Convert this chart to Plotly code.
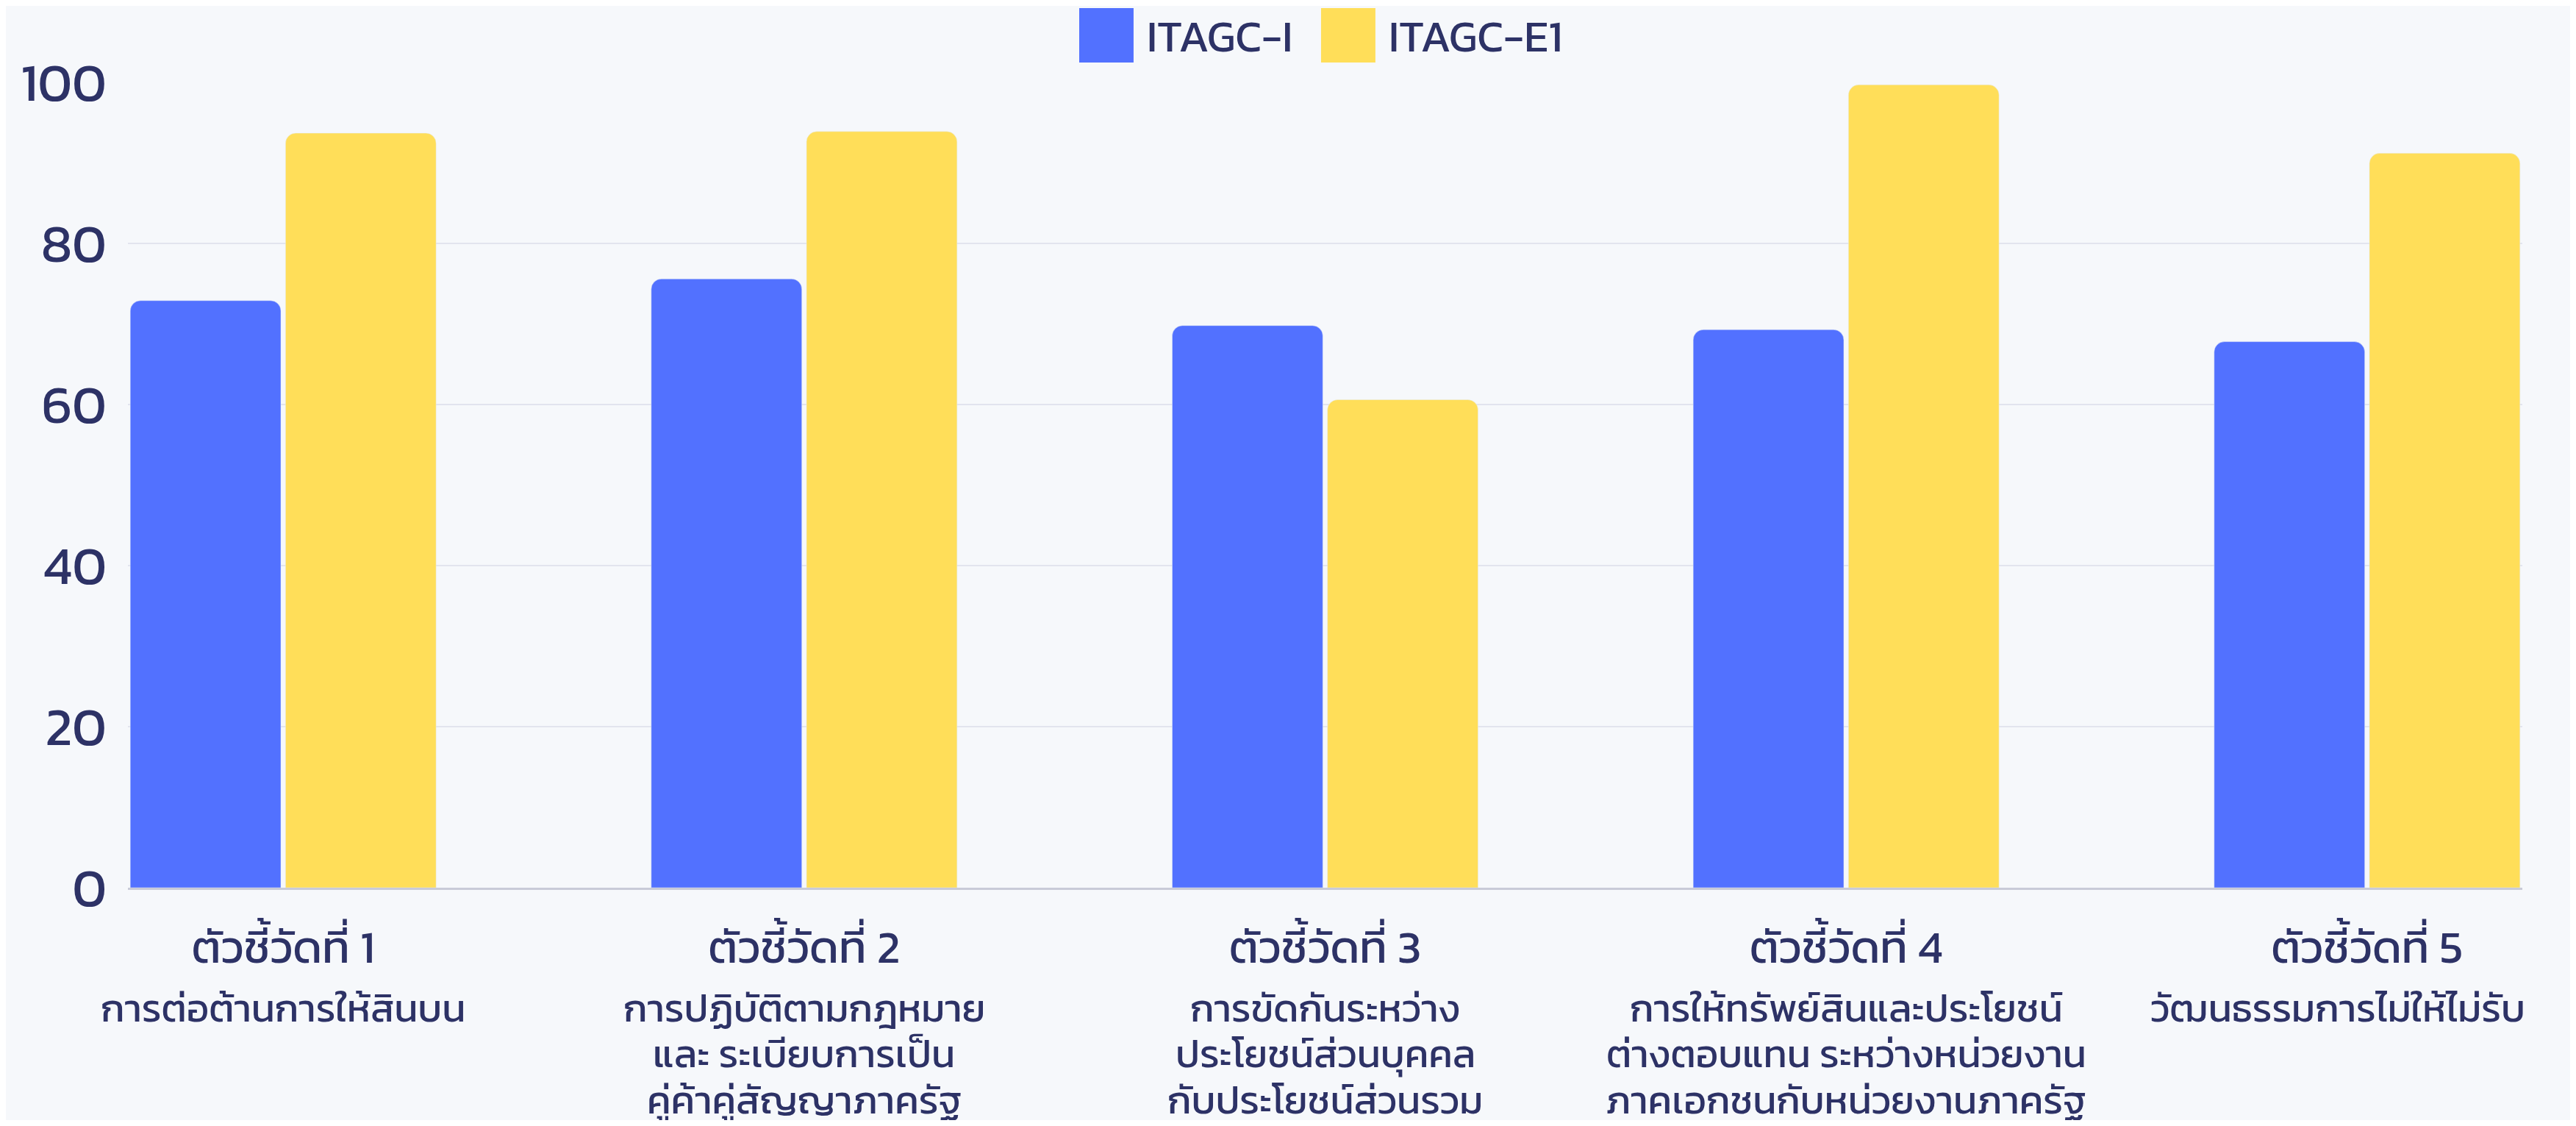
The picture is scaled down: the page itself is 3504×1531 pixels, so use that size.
import plotly.graph_objects as go

# ข้อมูล
categories = ["ตัวชี้วัดที่ 1", "ตัวชี้วัดที่ 2", "ตัวชี้วัดที่ 3", "ตัวชี้วัดที่ 4", "ตัวชี้วัดที่ 5"]
descriptions = [
    ["การต่อต้านการให้สินบน"],
    ["การปฏิบัติตามกฎหมาย", "และ ระเบียบการเป็น", "คู่ค้าคู่สัญญาภาครัฐ"],
    ["การขัดกันระหว่าง", "ประโยชน์ส่วนบุคคล", "กับประโยชน์ส่วนรวม"],
    ["การให้ทรัพย์สินและประโยชน์", "ต่างตอบแทน ระหว่างหน่วยงาน", "ภาคเอกชนกับหน่วยงานภาครัฐ"],
    ["วัฒนธรรมการไม่ให้ไม่รับ"],
]
itagc_i = [72.9, 75.6, 69.8, 69.3, 67.8]
itagc_e1 = [93.7, 93.9, 60.6, 99.7, 91.2]
series_names = ["ITAGC-I", "ITAGC-E1"]

BLUE = "#5271ff"
YELLOW = "#ffde59"
TXT = "#2d3266"
FONT = "Kanit, Prompt, 'Noto Sans Thai', 'Noto Sans', sans-serif"

fig = go.Figure()
fig.add_trace(go.Bar(x=categories, y=itagc_i, name=series_names[0], marker_color=BLUE))
fig.add_trace(go.Bar(x=categories, y=itagc_e1, name=series_names[1], marker_color=YELLOW))

# คำอธิบายใต้แกน x (ทีละบรรทัด เพื่อคุมระยะบรรทัด)
for i, lines in enumerate(descriptions):
    for k, line in enumerate(lines):
        fig.add_annotation(
            x=categories[i], xref="x", y=0, yref="paper",
            yanchor="middle", yshift=-163 - k * 62.6, xshift=-40 if i == 4 else 0,
            text=line, showarrow=False,
            font=dict(size=53, color=TXT, family=FONT),
        )

# legend แบบสี่เหลี่ยมใหญ่ (วาดเอง)
legend_items = [(series_names[0], BLUE, 0.3973), (series_names[1], YELLOW, 0.4983)]
for name, col, x0 in legend_items:
    fig.add_shape(
        type="rect", xref="paper", yref="paper",
        x0=x0, x1=x0 + 0.0227, y0=1.0247, y1=1.0922,
        fillcolor=col, line_width=0,
    )
    fig.add_annotation(
        x=x0 + 0.0276, xref="paper", y=1.0575, yref="paper",
        xanchor="left", yanchor="middle", text=name, showarrow=False,
        font=dict(size=60, color=TXT, family=FONT),
    )

fig.update_layout(
    width=3488, height=1515,
    margin=dict(l=166, r=65, t=104, b=316),
    paper_bgcolor="#f6f8fb",
    plot_bgcolor="rgba(0,0,0,0)",
    showlegend=False,
    barmode="group",
    bargap=0.404,
    bargroupgap=0.03,
    barcornerradius=14,
    font=dict(family=FONT, color=TXT),
)
fig.update_xaxes(
    range=[-0.298, 4.298],
    showgrid=False,
    showline=True, linecolor="#c9cbd8", linewidth=3,
    ticks="", ticklabelstandoff=25,
    tickfont=dict(size=62, color=TXT, family=FONT),
)
fig.update_yaxes(
    range=[0, 100], dtick=20,
    showgrid=True, gridcolor="#e2e4ee", gridwidth=2,
    zeroline=False,
    ticks="", ticklabelstandoff=28,
    tickfont=dict(size=72, color=TXT, family=FONT),
)

fig.write_html("out.html")
